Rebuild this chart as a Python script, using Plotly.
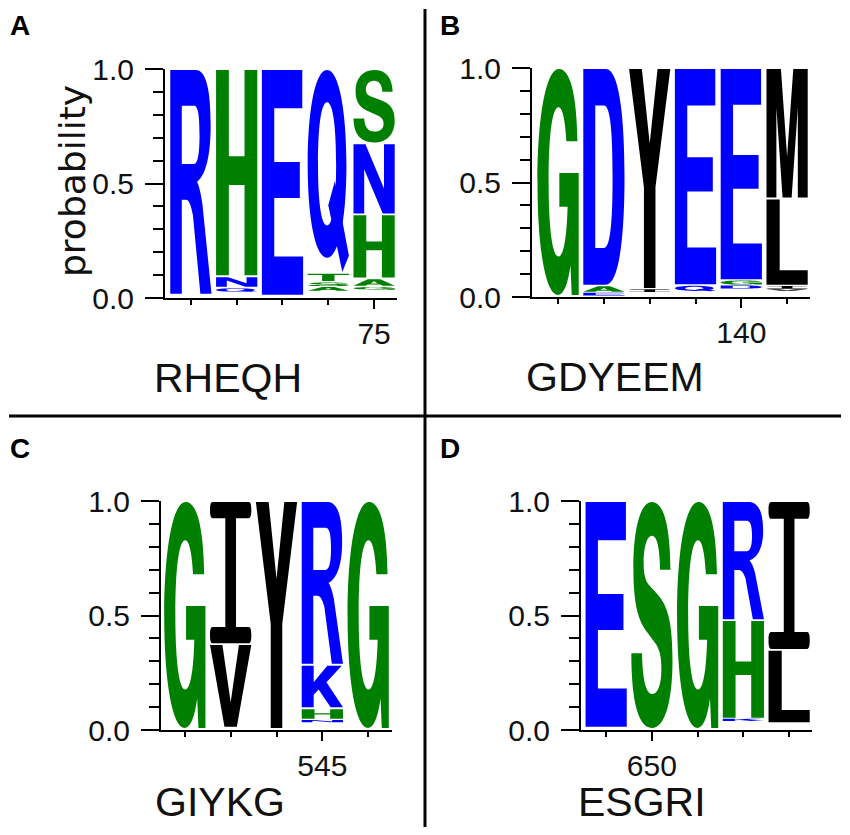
import plotly.graph_objects as go

# ---------------- data ----------------
BLUE, GREEN, BLACK = "#0000ff", "#008000", "#000000"
letter_colors = {
    "R": BLUE, "N": BLUE, "Q": BLUE, "E": BLUE, "D": BLUE, "K": BLUE,
    "H": GREEN, "S": GREEN, "T": GREEN, "G": GREEN, "A": GREEN,
    "Y": BLACK, "I": BLACK, "V": BLACK, "L": BLACK, "M": BLACK,
}

# Panel A
a_positions = [71, 72, 73, 74, 75]
a_letters = [["R"], ["Q", "N", "H"], ["E"], ["A", "S", "T", "Q"], ["G", "A", "H", "N", "S"]]
a_probs = [[0.985], [0.02, 0.05, 0.905], [0.99], [0.02, 0.02, 0.04, 0.89], [0.015, 0.035, 0.28, 0.31, 0.325]]
a_ticks = [75]
a_motif = "RHEQH"

# Panel B
b_positions = [136, 137, 138, 139, 140, 141]
b_letters = [["G"], ["E", "A", "D"], ["I", "Y"], ["Q", "E"], ["D", "G", "E"], ["V", "I", "L", "M"]]
b_probs = [[0.995], [0.015, 0.03, 0.95], [0.015, 0.965], [0.03, 0.948], [0.017, 0.022, 0.926], [0.008, 0.015, 0.38, 0.57]]
b_ticks = [140]
b_motif = "GDYEEM"

# Panel C
c_positions = [542, 543, 544, 545, 546]
c_letters = [["G"], ["V", "I"], ["Y"], ["N", "H", "K", "R"], ["G"]]
c_probs = [[0.995], [0.365, 0.625], [0.995], [0.012, 0.05, 0.19, 0.715], [0.995]]
c_ticks = [545]
c_motif = "GIYKG"

# Panel D
d_positions = [649, 650, 651, 652, 653]
d_letters = [["E"], ["S"], ["G"], ["K", "H", "R"], ["L", "I"]]
d_probs = [[0.99], [0.995], [0.995], [0.012, 0.43, 0.52], [0.32, 0.65]]
d_ticks = [650]
d_motif = "ESGRI"

y_ticks = [0.0, 0.5, 1.0]
y_ticktext = ["0.0", "0.5", "1.0"]
y_minor = [0.1, 0.2, 0.3, 0.4, 0.6, 0.7, 0.8, 0.9]

# ---------------- glyph outlines (unit box) ----------------
GLYPHS = {
    "E": ["M 0 0 L 1 0 L 1 0.17 L 0.3 0.17 L 0.3 0.43 L 0.92 0.43 L 0.92 0.59 L 0.3 0.59 L 0.3 0.83 L 0.98 0.83 L 0.98 1 L 0 1 Z"],
    "H": ["M 0 0 L 0.31 0 L 0.31 0.44 L 0.69 0.44 L 0.69 0 L 1 0 L 1 1 L 0.69 1 L 0.69 0.58 L 0.31 0.58 L 0.31 1 L 0 1 Z"],
    "L": ["M 0 0 L 1 0 L 1 0.17 L 0.32 0.17 L 0.32 1 L 0 1 Z"],
    "T": ["M 0.35 0 L 0.65 0 L 0.65 0.83 L 1 0.83 L 1 1 L 0 1 L 0 0.83 L 0.35 0.83 Z"],
    "I": ["M 0.06 0 L 0.94 0 C 0.98 0 1 0.02 1 0.05 L 1 0.065 C 1 0.095 0.98 0.115 0.94 0.115 L 0.63 0.115 "
          "L 0.63 0.885 L 0.94 0.885 C 0.98 0.885 1 0.905 1 0.935 L 1 0.95 C 1 0.98 0.98 1 0.94 1 L 0.06 1 "
          "C 0.02 1 0 0.98 0 0.95 L 0 0.935 C 0 0.905 0.02 0.885 0.06 0.885 L 0.37 0.885 L 0.37 0.115 "
          "L 0.06 0.115 C 0.02 0.115 0 0.095 0 0.065 L 0 0.05 C 0 0.02 0.02 0 0.06 0 Z"],
    "Y": ["M 0.36 0 L 0.64 0 L 0.64 0.46 L 1 1 L 0.69 1 L 0.5 0.66 L 0.31 1 L 0 1 L 0.36 0.46 Z"],
    "V": ["M 0 1 L 0.3 1 L 0.5 0.3 L 0.7 1 L 1 1 L 0.65 0 L 0.35 0 Z"],
    "M": ["M 0 0 L 0.24 0 L 0.24 0.7 L 0.39 0 L 0.61 0 L 0.76 0.7 L 0.76 0 L 1 0 L 1 1 L 0.65 1 L 0.5 0.32 L 0.35 1 L 0 1 Z"],
    "N": ["M 0 0 L 0.26 0 L 0.26 0.64 L 0.71 0 L 1 0 L 1 1 L 0.74 1 L 0.74 0.36 L 0.29 1 L 0 1 Z"],
    "K": ["M 0 0 L 0.29 0 L 0.29 0.3 L 0.41 0.43 L 0.7 0 L 1 0 L 0.6 0.6 L 0.97 1 L 0.62 1 L 0.29 0.6 L 0.29 1 L 0 1 Z"],
    "A": ["M 0 0 L 0.29 0 L 0.35 0.19 L 0.65 0.19 L 0.71 0 L 1 0 L 0.65 1 L 0.35 1 Z M 0.41 0.37 L 0.59 0.37 L 0.5 0.7 Z"],
    "R": ["M 0 0 L 0.28 0 L 0.28 0.42 L 0.38 0.42 C 0.45 0.42 0.5 0.4 0.55 0.35 L 0.73 0 L 1 0 L 0.78 0.4 "
          "C 0.74 0.45 0.7 0.48 0.65 0.5 C 0.88 0.53 0.98 0.63 0.98 0.75 C 0.98 0.92 0.86 1 0.62 1 L 0 1 Z "
          "M 0.28 0.58 L 0.28 0.84 L 0.58 0.84 C 0.67 0.84 0.71 0.8 0.71 0.71 C 0.71 0.62 0.66 0.58 0.58 0.58 Z"],
    "D": ["M 0 0 L 0.55 0 C 0.85 0 1 0.2 1 0.5 C 1 0.8 0.85 1 0.55 1 L 0 1 Z "
          "M 0.29 0.17 L 0.29 0.83 L 0.5 0.83 C 0.65 0.83 0.71 0.72 0.71 0.5 C 0.71 0.28 0.65 0.17 0.5 0.17 Z"],
    "Q": ["M 0.47 1 C 0.76 1 0.94 0.8 0.94 0.53 C 0.94 0.27 0.76 0.07 0.47 0.07 C 0.18 0.07 0 0.27 0 0.53 C 0 0.8 0.18 1 0.47 1 Z "
          "M 0.47 0.84 C 0.62 0.84 0.69 0.71 0.69 0.53 C 0.69 0.36 0.62 0.23 0.47 0.23 C 0.32 0.23 0.25 0.36 0.25 0.53 C 0.25 0.71 0.32 0.84 0.47 0.84 Z",
          "M 0.5 0.33 L 0.66 0.45 L 1 0.08 L 0.84 0 Z"],
    "G": ["M 0.97 0.68 C 0.95 0.9 0.78 1 0.52 1 C 0.2 1 0 0.78 0 0.5 C 0 0.2 0.2 0 0.5 0 C 0.64 0 0.74 0.05 0.8 0.13 "
          "L 0.83 0 L 1 0 L 1 0.54 L 0.53 0.54 L 0.53 0.39 L 0.73 0.39 C 0.71 0.25 0.63 0.17 0.51 0.17 "
          "C 0.36 0.17 0.27 0.3 0.27 0.5 C 0.27 0.71 0.36 0.83 0.51 0.83 C 0.6 0.83 0.67 0.78 0.7 0.68 Z"],
    "S": ["M 0.95 0.7 C 0.94 0.9 0.78 1 0.5 1 C 0.22 1 0.05 0.88 0.05 0.71 C 0.05 0.54 0.18 0.47 0.4 0.42 L 0.6 0.37 "
          "C 0.7 0.34 0.73 0.31 0.73 0.26 C 0.73 0.19 0.64 0.15 0.5 0.15 C 0.35 0.15 0.27 0.22 0.26 0.33 L 0 0.33 "
          "C 0 0.11 0.18 0 0.5 0 C 0.82 0 1 0.12 1 0.3 C 1 0.47 0.88 0.54 0.64 0.59 L 0.44 0.63 "
          "C 0.34 0.65 0.3 0.68 0.3 0.73 C 0.3 0.8 0.38 0.85 0.5 0.85 C 0.62 0.85 0.69 0.8 0.7 0.7 Z"],
}


def glyph_to_path(path, xc, w, y0, h):
    toks = path.replace(",", " ").split()
    out, nums = [], []
    for t in toks:
        if t.isalpha():
            out.append(t)
        else:
            nums.append(float(t))
            if len(nums) == 2:
                u, v = nums
                out.append(f"{xc + (u - 0.5) * w:.4f},{y0 + v * h:.5f}")
                nums = []
    return " ".join(out)


FONT = "Liberation Sans, Arial, sans-serif"
OFF = 8                      # page body margin
W, H = 850 - 2 * OFF, 835 - 2 * OFF


def px(x):
    return (x - OFF) / W


def py(y):
    return 1 - (y - OFF) / H


panels = [
    dict(pos=a_positions, let=a_letters, pr=a_probs, ticks=a_ticks, motif=a_motif, name="A",
         xpx=(165, 397), ypx=(298, 69), xr=(70.435, 75.5), lab=(8, 8), motif_xy=(228, 378), manchor="middle"),
    dict(pos=b_positions, let=b_letters, pr=b_probs, ticks=b_ticks, motif=b_motif, name="B",
         xpx=(532, 810), ypx=(297, 68), xr=(135.43, 141.5), lab=(438, 8), motif_xy=(615, 377), manchor="middle"),
    dict(pos=c_positions, let=c_letters, pr=c_probs, ticks=c_ticks, motif=c_motif, name="C",
         xpx=(161, 392), ypx=(730, 501), xr=(541.48, 546.52), lab=(8, 431), motif_xy=(220, 827), manchor="bottom"),
    dict(pos=d_positions, let=d_letters, pr=d_probs, ticks=d_ticks, motif=d_motif, name="D",
         xpx=(581, 812), ypx=(730, 501), xr=(648.45, 653.5), lab=(438, 431), motif_xy=(642, 827), manchor="bottom"),
]

fig = go.Figure()
shapes, annotations = [], []
LETTER_W = 0.9

for i, p in enumerate(panels):
    n = "" if i == 0 else str(i + 1)
    xref, yref = "x" + n, "y" + n
    hx, hy, ht = [], [], []
    for xc, lets, prs in zip(p["pos"], p["let"], p["pr"]):
        y = 1.0 - sum(prs)
        for L, pv in zip(lets, prs):
            pad = min(0.004, pv * 0.1)
            for gp in GLYPHS[L]:
                shapes.append(dict(type="path", xref=xref, yref=yref,
                                   path=glyph_to_path(gp, xc, LETTER_W, y + pad, pv - 2 * pad),
                                   fillcolor=letter_colors[L], line=dict(width=0),
                                   fillrule="evenodd", layer="above"))
            hx.append(xc); hy.append(y + pv / 2); ht.append(f"{L}: {pv:.3f}")
            y += pv
    fig.add_trace(go.Scatter(x=hx, y=hy, text=ht, mode="markers", hoverinfo="text",
                             marker=dict(opacity=0, size=10), showlegend=False,
                             xaxis=xref, yaxis=yref))
    minor_x = [v for v in p["pos"] if v not in p["ticks"]]
    xa = dict(domain=[px(p["xpx"][0]), px(p["xpx"][1])], range=list(p["xr"]), anchor=yref,
              showline=True, linewidth=2, linecolor="black", showgrid=False, zeroline=False,
              ticks="outside", tickvals=p["ticks"], ticktext=[str(t) for t in p["ticks"]],
              ticklen=9, tickwidth=2, tickcolor="black", ticklabelstandoff=-1,
              tickfont=dict(family=FONT, size=30, color="#111"),
              minor=dict(tickmode="array", tickvals=minor_x, ticks="outside", ticklen=5,
                         tickwidth=2, tickcolor="black"),
              fixedrange=True, automargin=False)
    ya = dict(domain=[py(p["ypx"][0]), py(p["ypx"][1])], range=[0, 1], anchor=xref,
              showline=True, linewidth=2, linecolor="black", showgrid=False, zeroline=False,
              ticks="outside", tickvals=y_ticks, ticktext=y_ticktext, ticklen=18, tickwidth=2,
              tickcolor="black", ticklabelstandoff=5,
              tickfont=dict(family=FONT, size=30, color="#111"),
              minor=dict(tickmode="array", tickvals=y_minor, ticks="outside", ticklen=10,
                         tickwidth=2, tickcolor="black"),
              fixedrange=True, automargin=False)
    fig.update_layout(**{"xaxis" + n: xa, "yaxis" + n: ya})
    annotations.append(dict(text=f"<b>{p['name']}</b>", x=px(p["lab"][0]), y=py(p["lab"][1]),
                            xref="paper", yref="paper", showarrow=False, xanchor="left",
                            yanchor="top", font=dict(family=FONT, size=28, color="black")))
    annotations.append(dict(text=p["motif"], x=px(p["motif_xy"][0]), y=py(p["motif_xy"][1]),
                            xref="paper", yref="paper", showarrow=False, xanchor="center",
                            yanchor=p["manchor"], font=dict(family=FONT, size=41, color="#111")))

annotations.append(dict(text="probability", x=px(72), y=py(181), xref="paper", yref="paper",
                        showarrow=False, textangle=-90, xanchor="center", yanchor="middle",
                        font=dict(family="DejaVu Sans", size=36, color="#111")))

# divider lines
shapes.append(dict(type="line", xref="paper", yref="paper", x0=px(425), x1=px(425),
                   y0=py(9), y1=py(828), line=dict(color="black", width=3)))
shapes.append(dict(type="line", xref="paper", yref="paper", x0=px(9), x1=px(841),
                   y0=py(416), y1=py(416), line=dict(color="black", width=3)))

fig.update_layout(width=W, height=H,
                  margin=dict(l=0, r=0, t=0, b=0, pad=0, autoexpand=False), autosize=False,
                  paper_bgcolor="white", plot_bgcolor="white",
                  shapes=shapes, annotations=annotations)

fig.write_html("out.html")
